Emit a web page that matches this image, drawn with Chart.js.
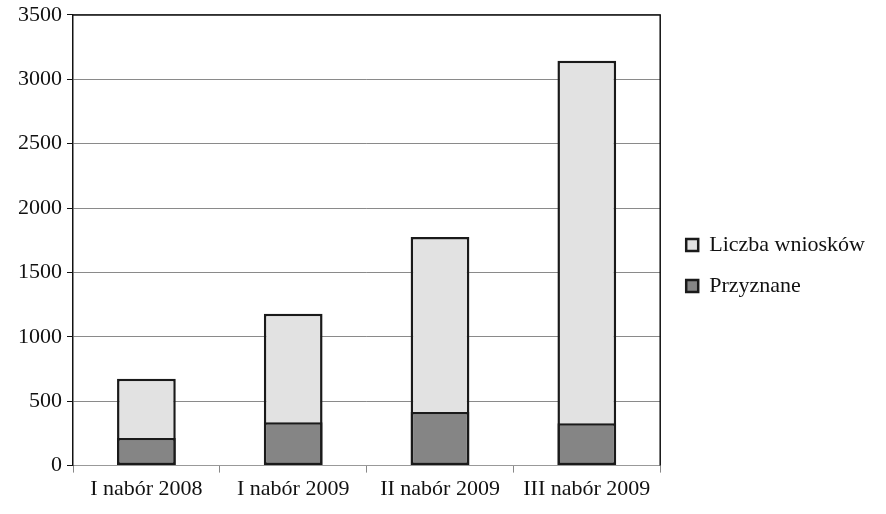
<!DOCTYPE html>
<html>
<head>
<meta charset="utf-8">
<script src="https://cdn.jsdelivr.net/npm/chart.js@4"></script>
<style>
  html, body { margin: 0; padding: 0; background: #fff; }
  #wrap { width: 886px; height: 514px; }
</style>
</head>
<body>
<div id="wrap"><canvas id="chart"></canvas></div>
<script>
// categories and values
const categories = ["I nabór 2008", "I nabór 2009", "II nabór 2009", "III nabór 2009"];
const wnioski = [675, 1180, 1775, 3143];    // Liczba wniosków (whole bar)
const przyznane = [215, 337, 417, 329];     // Przyznane (dark part)
const yTicks = [0, 500, 1000, 1500, 2000, 2500, 3000, 3500];

const serif = { family: "Liberation Serif", size: 22 };

// frame round the top and right of the plot area,
// and nudge the legend a bit right and down like in the original
const frame = {
  id: "frame",
  afterLayout(chart) {
    const lg = chart.legend;
    lg.left += 7; lg.right += 7;
    lg.top += 11; lg.bottom += 11;
  },
  afterDraw(chart) {
    const { ctx, chartArea: a } = chart;
    ctx.save();
    ctx.strokeStyle = "#111";
    ctx.lineWidth = 1.5;
    ctx.beginPath();
    ctx.moveTo(a.left, a.top);
    ctx.lineTo(a.right, a.top);
    ctx.lineTo(a.right, a.bottom);
    ctx.stroke();
    ctx.restore();
  }
};

const ctx = document.getElementById("chart").getContext("2d");
const chart = new Chart(ctx, {
  type: "bar",
  data: {
    labels: categories,
    datasets: [
      {
        label: "Liczba wniosków",
        data: wnioski,
        backgroundColor: "#e2e2e2",
        borderColor: "#1a1a1a",
        borderWidth: 2.5,
        borderSkipped: false,
        order: 1,
      },
      {
        label: "Przyznane",
        data: przyznane,
        backgroundColor: "#858585",
        borderColor: "#1a1a1a",
        borderWidth: 2.5,
        borderSkipped: false,
        order: 0,
      },
    ],
  },
  options: {
    responsive: true,
    maintainAspectRatio: false,
    animation: false,
    barPercentage: 0.4,
    categoryPercentage: 1,
    layout: { padding: { top: 4, right: 18, bottom: 9, left: 2 } },
    plugins: {
      legend: {
        position: "right",
        labels: {
          sort: (a, b) => a.datasetIndex - b.datasetIndex,
          font: serif,
          color: "#111",
          boxWidth: 12,
          boxHeight: 12,
          padding: 19,
        },
      },
      tooltip: { enabled: false },
    },
    scales: {
      x: {
        stacked: true,
        grid: { display: true, drawOnChartArea: false, color: "#888", tickLength: 7 },
        border: { color: "#999", width: 1 },
        ticks: {
          font: serif,
          color: "#111",
          padding: 3,
          maxRotation: 0,
        },
      },
      y: {
        stacked: false,
        min: 0,
        max: 3500,
        afterBuildTicks: (axis) => { axis.ticks = yTicks.map((v) => ({ value: v })); },
        afterFit: (axis) => { axis.width = 71; },
        grid: { color: "#8a8a8a", lineWidth: 1, tickColor: "#111", tickLength: 6 },
        border: { color: "#111", width: 1.5 },
        ticks: {
          font: { family: "Liberation Serif", size: 22, lineHeight: 0.9 },
          color: "#111",
          padding: 5,
          callback: (v) => String(v),
        },
      },
    },
  },
  plugins: [frame],
});
</script>
</body>
</html>
